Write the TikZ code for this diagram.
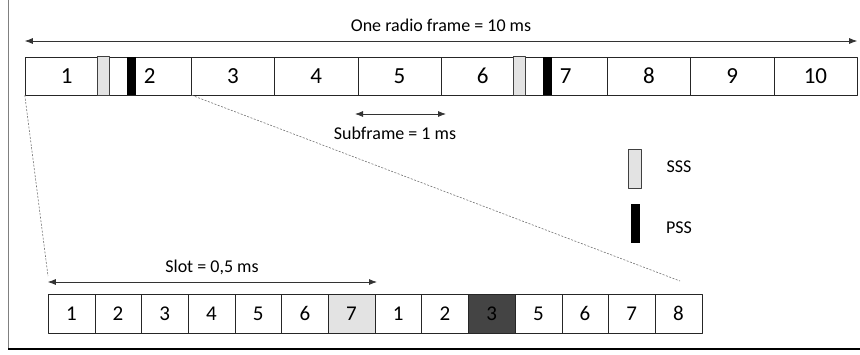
\documentclass[tikz,border=0pt]{standalone}
\usepackage{fontspec}
\setmainfont{Carlito}
\usetikzlibrary{arrows.meta}
\definecolor{sssgray}{HTML}{E3E3E3}
\definecolor{symdark}{HTML}{444444}

\begin{document}
\begin{tikzpicture}[x=1pt, y=-1pt, line join=round,
    subbox/.style={draw=black!85, minimum width=83.2pt, minimum height=38pt, inner sep=0pt, font=\fontsize{23}{23}\selectfont},
    symbox/.style={draw=black!85, minimum width=46.7pt, minimum height=39pt, inner sep=0pt, font=\fontsize{21}{21}\selectfont},
    span/.style={{Latex[length=8pt,width=6pt]}-{Latex[length=8pt,width=6pt]}, black!80, line width=0.8pt},
    zoomline/.style={dash pattern=on 2pt off 1.5pt, black!55, line width=0.6pt},
    sssbox/.style={draw=black!75, fill=sssgray, line width=0.8pt},
    lbl/.style={font=\fontsize{18}{18}\selectfont, anchor=base}]
    \useasboundingbox (0,0) rectangle (860,354);
    \draw[black!50, line width=1.5pt] (8.5,0) -- (8.5,349);
    \draw[black, line width=1.5pt] (8,349) -- (860,349);

    % radio frame with ten subframes
    \foreach \i in {1,...,10}
        \node[subbox] (sf\i) at ({25+83.2*(\i-0.5)}, 76) {\i};
    \foreach \s in {1,6} {
        \draw[sssbox] ([xshift=-11pt]sf\s.north east) rectangle ([xshift=1pt]sf\s.south east);
        \fill ([xshift=19pt]sf\s.north east) rectangle ([xshift=28pt]sf\s.south east);
    }

    % symbols of one subframe
    \foreach \lab [count=\j] in {1,2,3,4,5,6,7,1,2,3,5,6,7,8}
        \node[symbox] (sym\j) at ({48+46.7*(\j-0.5)}, 313.5) {\lab};
    \node[symbox, fill=sssgray] at (sym7) {7};
    \node[symbox, fill=symdark] at (sym10) {3};

    % dimensions
    \coordinate (sfa) at (355,114);
    \coordinate (sfb) at (446,114);
    \coordinate (slb) at (377,282);
    \draw[span] (sf1.north west |- 0,41) -- (sf10.north east |- 0,41);
    \draw[span] (sfa) -- (sfb);
    \draw[span] (sym1.north west |- 0,282) -- (slb);
    \node[lbl] (frametxt) at (441,31) {One radio frame = 10 ms};
    \node[lbl] (subtxt) at (395,139) {Subframe = 1 ms};
    \node[lbl] (slottxt) at (212,272) {Slot = 0,5 ms};

    % zoom lines
    \coordinate (zl) at (48,276);
    \coordinate (zr) at (680,281);
    \draw[zoomline] (sf1.south west) -- (zl);
    \draw[zoomline] (sf2.south east) -- (zr);

    % legend
    \draw[sssbox] (628,149) rectangle (641,188);
    \fill (631,204) rectangle (640,243);
    \node[lbl] (ssstxt) at (679,172) {SSS};
    \node[lbl] (psstxt) at (679,233) {PSS};
\end{tikzpicture}
\end{document}
